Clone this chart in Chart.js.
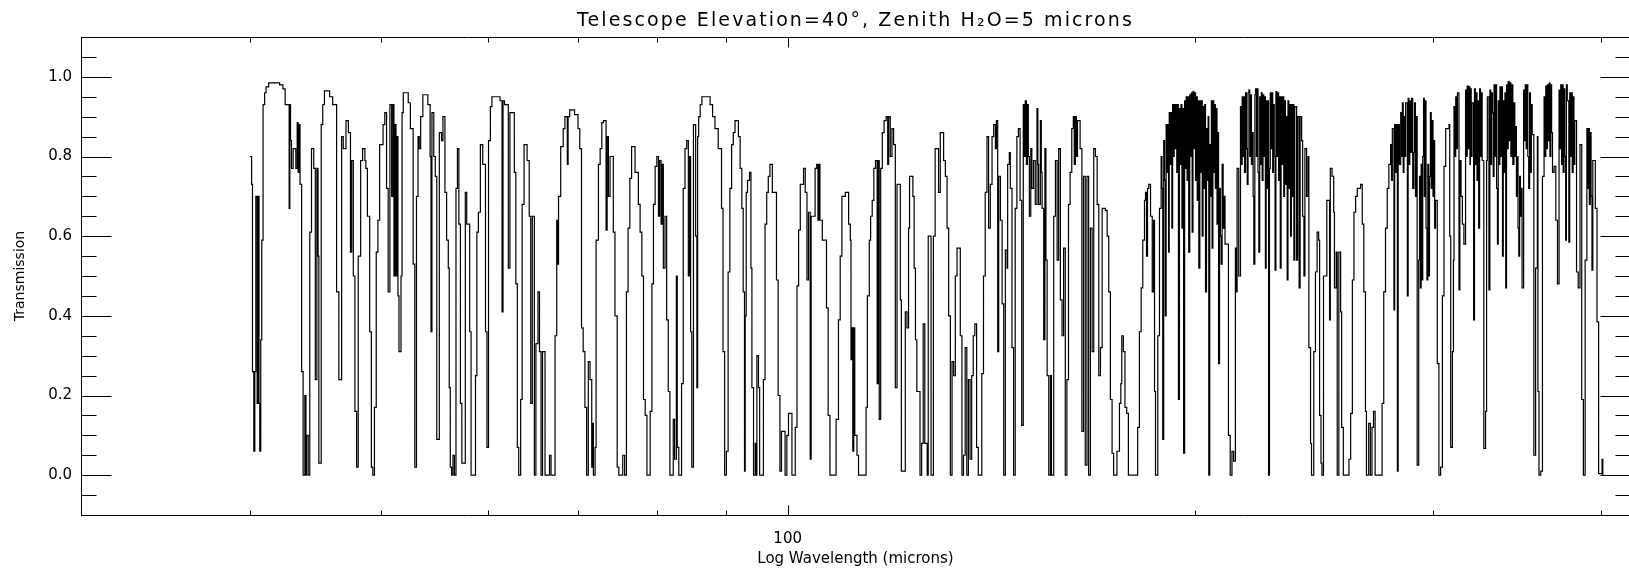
<!DOCTYPE html>
<html>
<head>
<meta charset="utf-8">
<title>Telescope Elevation=40°, Zenith H2O=5 microns</title>
<script src="https://cdn.jsdelivr.net/npm/chart.js@4.4.1/dist/chart.umd.min.js"></script>
<style>
  html, body { margin: 0; padding: 0; background: #fff; overflow: hidden; }
  #transmissionChart { display: block; width: 1632px; height: 577px; }
</style>
</head>
<body>
<canvas id="transmissionChart" width="1632" height="577"></canvas>
<script>
// Wavelength (microns) and transmission, stepped trace
const wavelengths = [
  40.00, 40.12, 40.18, 40.27, 40.34, 40.41, 40.50, 40.57, 40.63, 40.68,
  40.75, 40.82, 40.91, 41.02, 41.12, 41.30, 42.08, 42.32, 42.48, 42.77,
  42.82, 42.87, 42.94, 43.06, 43.26, 43.36, 43.43, 43.51, 43.57, 43.69,
  43.80, 43.93, 44.01, 44.06, 44.18, 44.30, 44.43, 44.60, 44.72, 44.84,
  44.93, 44.99, 45.17, 45.29, 45.42, 45.82, 46.06, 46.37, 46.55, 46.77,
  46.90, 47.12, 47.31, 47.48, 47.58, 47.71, 47.84, 47.98, 48.11, 48.31,
  48.47, 48.66, 48.74, 48.87, 49.06, 49.20, 49.32, 49.46, 49.61, 49.75,
  49.90, 50.19, 50.34, 50.49, 50.63, 50.78, 50.93, 51.04, 51.13, 51.22,
  51.31, 51.40, 51.48, 51.57, 51.75, 51.84, 51.95, 52.39, 52.58, 52.83,
  52.98, 53.13, 53.27, 53.38, 53.51, 53.71, 54.17, 54.38, 54.46, 54.55,
  54.72, 54.86, 55.00, 55.24, 55.45, 55.58, 55.77, 55.93, 56.09, 56.18,
  56.28, 56.41, 56.54, 56.68, 56.83, 56.97, 57.11, 57.26, 57.40, 57.74,
  57.88, 58.17, 58.31, 58.75, 58.89, 59.04, 59.24, 59.48, 59.76, 59.91,
  60.07, 60.26, 60.42, 61.26, 61.47, 61.57, 61.73, 62.13, 62.30, 62.77,
  62.93, 63.09, 63.24, 63.45, 63.61, 63.82, 64.15, 64.38, 64.55, 64.72,
  64.95, 65.12, 65.35, 65.52, 65.69, 65.86, 66.14, 66.65, 66.82, 67.28,
  67.47, 67.56, 67.68, 67.93, 68.22, 68.42, 68.70, 68.79, 68.98, 69.55,
  69.96, 70.17, 70.38, 70.58, 70.79, 71.00, 71.20, 71.41, 71.62, 71.72,
  71.82, 72.03, 72.15, 72.44, 72.65, 72.86, 73.06, 73.39, 73.52, 73.68,
  73.89, 74.30, 74.51, 74.79, 75.00, 75.50, 75.75, 75.98, 76.19, 76.42,
  76.65, 77.10, 77.54, 77.77, 78.00, 78.22, 78.45, 78.68, 79.12, 79.35,
  79.56, 79.79, 80.02, 80.24, 80.40, 80.60, 80.74, 80.91, 81.14, 81.37,
  81.59, 81.82, 82.29, 82.48, 82.73, 82.85, 83.07, 83.46, 83.70, 83.95,
  84.20, 84.43, 84.61, 84.76, 84.93, 85.17, 85.49, 85.67, 85.78, 85.93,
  86.15, 86.40, 87.62, 87.99, 88.35, 88.84, 89.34, 89.57, 89.82, 90.09,
  90.35, 90.62, 90.89, 91.15, 91.42, 91.95, 92.22, 92.49, 92.70, 92.91,
  93.02, 93.18, 93.39, 93.71, 93.93, 94.09, 94.35, 94.62, 94.78, 94.89,
  95.15, 95.34, 95.95, 96.22, 96.49, 96.75, 97.02, 97.42, 98.11, 98.39,
  98.69, 98.95, 99.56, 99.86, 100.14, 100.73, 101.30, 101.60, 101.88, 102.17,
  102.74, 103.04, 103.34, 103.61, 103.91, 104.08, 104.78, 105.07, 105.30, 105.47,
  105.65, 106.08, 106.84, 107.14, 107.47, 108.60, 109.04, 109.36, 109.68, 110.31,
  110.94, 111.26, 111.39, 111.58, 111.73, 111.92, 112.11, 112.53, 112.83, 114.29,
  114.54, 114.92, 115.18, 115.49, 115.81, 116.14, 116.47, 116.68, 116.88, 117.17,
  117.50, 117.85, 118.27, 118.58, 118.78, 119.10, 119.45, 119.78, 120.13, 120.48,
  121.16, 121.37, 122.19, 122.54, 122.87, 123.08, 123.78, 124.05, 124.32, 124.61,
  125.29, 125.64, 125.97, 126.32, 126.84, 127.06, 127.67, 128.18, 128.56, 129.31,
  129.69, 130.43, 130.82, 131.20, 131.56, 131.94, 132.32, 132.68, 133.06, 133.45,
  134.19, 134.57, 134.93, 135.31, 135.69, 136.06, 136.44, 136.82, 137.18, 137.56,
  137.97, 138.37, 139.20, 139.60, 140.01, 140.43, 140.82, 141.23, 141.65, 142.04,
  142.46, 142.70, 143.02, 143.27, 143.68, 144.10, 144.49, 144.90, 145.32, 145.47,
  145.88, 146.13, 146.55, 146.94, 147.35, 147.77, 148.16, 148.58, 148.99, 149.39,
  149.65, 149.90, 150.20, 150.45, 150.68, 150.95, 151.32, 151.59, 152.02, 152.47, 152.92, 153.15, 153.35, 153.80, 154.05,
  154.26, 154.68, 155.00, 155.27, 155.59, 156.02, 156.47, 156.74, 157.35, 157.80,
  158.26, 158.68, 159.14, 159.59, 160.02, 160.47, 160.92, 161.35, 161.80, 162.26,
  162.68, 162.95, 163.25, 163.55, 163.85, 164.58, 165.08, 165.54, 166.03, 166.52, 166.99, 167.49, 167.98,
  168.45, 168.94, 169.43, 169.90, 170.39, 170.88, 171.84, 172.34, 172.80, 173.29,
  173.79, 174.25, 175.24, 175.99, 176.40, 176.69, 177.16, 177.65, 178.19, 178.69,
  181.54, 182.08, 182.62, 183.12, 183.66, 183.98, 184.29, 184.61, 185.02, 185.56,
  186.10, 186.51, 186.83, 187.14, 187.87, 188.41,
  188.94, 189.20, 189.45, 189.77, 190.05, 190.30, 190.56, 190.85, 191.10, 191.35,
  191.57, 191.85, 192.10, 192.42, 192.68, 192.95, 193.20, 193.45, 193.75, 194.04,
  194.30, 194.59, 194.93, 195.20, 195.45, 195.76, 196.03, 196.31, 196.66, 196.95,
  197.20, 197.48, 197.75, 198.03, 198.38, 198.65, 198.92, 199.20, 199.48, 199.75,
  200.05, 200.34, 200.63, 200.93, 201.20, 201.47, 201.82, 202.10, 202.38, 202.65,
  202.92, 203.20, 203.50, 203.78, 204.13, 204.45, 204.70, 204.92, 205.26, 205.55,
  205.82, 206.09, 206.36, 206.65, 206.95, 207.22, 207.50, 207.81, 208.10, 208.36,
  208.70, 209.00, 209.29, 209.63, 210.00, 210.30, 210.67, 211.90, 212.54, 213.18,
  213.78, 214.42, 214.79, 215.05, 215.65,
  216.29, 216.60, 216.93, 217.25, 217.55, 217.79, 218.17, 218.50, 218.80, 219.10,
  219.40, 219.72, 220.04, 220.37, 220.68, 221.00, 221.28, 221.65, 221.92, 222.25,
  222.55, 222.85, 223.16, 223.49, 223.80, 224.10, 224.43, 224.75, 225.05, 225.35,
  225.67, 225.97, 226.30, 226.60, 226.90, 227.24, 227.55, 227.91, 228.20, 228.50,
  228.78, 229.10, 229.42, 229.75, 230.10, 230.45, 230.80, 231.10, 231.46, 231.79,
  232.15, 232.50, 232.85, 233.15, 233.50, 233.85, 234.20, 234.52, 234.85, 235.20,
  235.55, 235.87, 236.20, 236.55, 236.89, 237.26, 238.00, 238.40, 239.02,
  239.43, 240.04, 240.45, 240.98, 241.39, 242.08, 242.69, 243.02, 243.71, 244.12,
  245.06, 245.76, 246.45, 247.10, 247.51, 248.08, 248.49, 249.15, 250.57, 251.74,
  252.06, 252.81, 253.52, 253.84, 254.60, 255.05, 255.76, 256.53, 256.97, 257.71,
  260.19, 260.95, 261.71, 262.42, 263.17, 263.93, 265.40, 266.15, 266.86, 267.62,
  268.07, 269.09, 269.85, 270.61, 271.31, 272.06, 275.31, 276.08, 276.91, 277.73,
  278.50, 279.33, 279.75, 280.15, 280.93, 281.26, 281.70, 282.15, 282.57, 282.96,
  283.55, 284.17, 284.60, 284.99, 285.40, 285.77, 286.20, 286.59, 287.41, 287.80,
  288.20, 288.60, 289.01, 289.50, 290.05, 290.61, 290.95, 291.40, 291.85, 292.26,
  293.03, 293.45, 293.86, 294.25, 294.68, 295.05, 295.46, 295.85, 296.28, 296.70,
  297.18, 297.60, 298.02, 298.45, 298.92, 299.35, 299.81, 300.25, 300.66, 301.10,
  301.55, 302.45,
  303.29, 304.17, 305.09, 305.93, 306.82, 308.56, 308.93, 309.46, 310.36, 310.89,
  311.20, 311.65, 312.10, 312.55, 313.01, 313.84, 314.32, 314.95, 315.64, 316.48,
  317.38, 317.80, 318.27, 318.85, 319.40, 319.75, 320.01, 320.45, 320.91, 321.75,
  322.23, 322.70, 323.15, 323.62, 324.05, 324.54, 325.06, 325.55, 326.00, 326.49,
  327.41, 328.38, 328.96, 329.36, 330.28, 330.80, 331.30, 331.75, 332.23, 332.70,
  333.15, 333.65, 334.15, 334.60, 335.10, 335.56, 336.05, 336.50, 337.00, 337.50,
  337.98, 338.44, 338.95, 339.40, 339.87, 340.33, 340.85, 341.30, 341.80, 342.30,
  342.85, 343.40, 344.00, 344.64, 345.15, 345.62, 346.10, 346.59, 347.05, 347.51,
  348.00, 348.49, 349.00, 349.46, 350.38, 350.90, 351.35, 351.90, 352.40, 352.90,
  353.42, 353.98, 354.50, 355.00, 355.54, 356.54, 357.61, 358.67, 359.05, 359.67,
  360.74, 361.80, 362.80, 363.30, 363.86, 364.40, 364.90, 365.40, 365.93, 366.45,
  366.99, 367.50, 368.05, 369.05, 370.12, 371.18, 372.18, 372.70, 373.25, 373.80,
  374.30, 374.80, 375.35, 375.85, 376.38, 376.88, 377.44, 378.44, 379.01, 379.60,
  380.10, 380.65, 381.20, 381.75, 382.29, 383.44, 384.53, 385.69, 386.85, 387.94,
  389.09, 390.25, 390.80, 391.35, 391.90, 392.50, 393.05, 393.65, 394.20, 395.90,
  397.05, 398.14, 400.46, 401.00
];

const transmission = [
  0.80, 0.73, 0.26, 0.06, 0.26, 0.70, 0.18, 0.70, 0.18, 0.06,
  0.34, 0.59, 0.93, 0.96, 0.975, 0.985, 0.98, 0.97, 0.93, 0.67,
  0.93, 0.84, 0.77, 0.82, 0.77, 0.885, 0.76, 0.88, 0.73, 0.26,
  0.00, 0.20, 0.00, 0.10, 0.00, 0.61, 0.82, 0.77, 0.24, 0.77,
  0.55, 0.03, 0.88, 0.93, 0.965, 0.95, 0.93, 0.46, 0.24, 0.85,
  0.82, 0.89, 0.86, 0.56, 0.79, 0.50, 0.16, 0.02, 0.55, 0.79,
  0.82, 0.79, 0.77, 0.65, 0.36, 0.02, 0.00, 0.17, 0.56, 0.64,
  0.83, 0.88, 0.91, 0.72, 0.46, 0.93, 0.70, 0.93, 0.50, 0.88,
  0.50, 0.85, 0.45, 0.31, 0.50, 0.91, 0.96, 0.935, 0.87, 0.53,
  0.02, 0.70, 0.85, 0.82, 0.90, 0.955, 0.93, 0.80, 0.36, 0.91,
  0.80, 0.75, 0.09, 0.86, 0.84, 0.90, 0.71, 0.59, 0.52, 0.22,
  0.02, 0.00, 0.05, 0.00, 0.72, 0.82, 0.63, 0.18, 0.03, 0.71,
  0.63, 0.36, 0.00, 0.25, 0.61, 0.66, 0.83, 0.78, 0.36, 0.07,
  0.84, 0.925, 0.95, 0.94, 0.41, 0.94, 0.93, 0.52, 0.91, 0.76,
  0.48, 0.07, 0.00, 0.19, 0.68, 0.83, 0.79, 0.65, 0.18, 0.65,
  0.00, 0.33, 0.46, 0.31, 0.00, 0.31, 0.00, 0.05, 0.00, 0.35,
  0.64, 0.53, 0.70, 0.825, 0.87, 0.90, 0.78, 0.90, 0.917, 0.905,
  0.87, 0.82, 0.37, 0.31, 0.17, 0.00, 0.285, 0.24, 0.02, 0.13,
  0.00, 0.07, 0.59, 0.78, 0.82, 0.885, 0.89, 0.615, 0.85, 0.70,
  0.80, 0.61, 0.40, 0.02, 0.00, 0.05, 0.00, 0.46, 0.62, 0.745,
  0.825, 0.76, 0.68, 0.61, 0.50, 0.19, 0.15, 0.00, 0.16, 0.48,
  0.68, 0.775, 0.80, 0.65, 0.79, 0.63, 0.78, 0.52, 0.65, 0.39,
  0.21, 0.00, 0.14, 0.04, 0.50, 0.07, 0.00, 0.23, 0.72, 0.82,
  0.84, 0.50, 0.80, 0.36, 0.02, 0.88, 0.60, 0.22, 0.85, 0.90,
  0.93, 0.95, 0.93, 0.90, 0.87, 0.82, 0.67, 0.31, 0.00, 0.06,
  0.51, 0.72, 0.83, 0.86, 0.89, 0.85, 0.77, 0.67, 0.46, 0.01,
  0.40, 0.71, 0.74, 0.76, 0.52, 0.22, 0.00, 0.08, 0.00, 0.30,
  0.22, 0.00, 0.24, 0.63, 0.71, 0.75, 0.78, 0.71, 0.49, 0.20,
  0.01, 0.11, 0.00, 0.10, 0.155, 0.00, 0.12, 0.475, 0.615, 0.73,
  0.77, 0.71, 0.49, 0.66, 0.04, 0.65, 0.77, 0.78, 0.64, 0.78,
  0.64, 0.59, 0.42, 0.15, 0.00, 0.14, 0.39, 0.55, 0.70, 0.71,
  0.63, 0.59, 0.29, 0.37, 0.06, 0.37, 0.10, 0.05, 0.00, 0.17,
  0.45, 0.59, 0.65, 0.69, 0.77, 0.79, 0.23, 0.79, 0.14, 0.77,
  0.86, 0.89, 0.90, 0.78, 0.90, 0.80, 0.87, 0.83, 0.22, 0.73,
  0.44, 0.01, 0.41, 0.37, 0.62, 0.75, 0.70, 0.52, 0.34, 0.21,
  0.00, 0.08, 0.38, 0.08, 0.00, 0.60, 0.00, 0.60, 0.82, 0.71,
  0.86, 0.79, 0.75, 0.62, 0.40, 0.00, 0.285, 0.25, 0.50, 0.57,
  0.35, 0.00, 0.05, 0.32, 0.00, 0.24, 0.04, 0.25, 0.35, 0.38,
  0.07, 0.00, 0.255, 0.50, 0.71, 0.85, 0.62, 0.73, 0.85, 0.88,
  0.82, 0.89, 0.31, 0.75, 0.64, 0.43, 0.00, 0.565, 0.52, 0.78,
  0.81, 0.72, 0.32, 0.00, 0.67, 0.85, 0.87, 0.69, 0.125, 0.93,
  0.80, 0.94, 0.78, 0.93, 0.80, 0.65, 0.82, 0.72, 0.79, 0.68, 0.92, 0.78, 0.68, 0.89, 0.76,
  0.67, 0.34, 0.82, 0.54, 0.25, 0.00, 0.25, 0.00, 0.65, 0.79,
  0.54, 0.82, 0.44, 0.35, 0.57, 0.00, 0.24, 0.68, 0.76, 0.87,
  0.90, 0.78, 0.90, 0.80, 0.89, 0.82, 0.11, 0.75, 0.025, 0.75, 0.00, 0.62, 0.31,
  0.82, 0.80, 0.68, 0.25, 0.32, 0.67, 0.665, 0.60, 0.46, 0.19,
  0.055, 0.00, 0.06, 0.18, 0.23, 0.35, 0.31, 0.17, 0.155, 0.00,
  0.12, 0.36, 0.47, 0.59, 0.69, 0.71, 0.55, 0.72, 0.73, 0.65,
  0.46, 0.64, 0.21, 0.00, 0.35, 0.67,
  0.80, 0.72, 0.09, 0.84, 0.74, 0.40, 0.88, 0.76, 0.88, 0.56,
  0.91, 0.78, 0.91, 0.62, 0.93, 0.80, 0.93, 0.82, 0.93, 0.76,
  0.93, 0.19, 0.92, 0.78, 0.93, 0.62, 0.92, 0.055, 0.94, 0.77,
  0.95, 0.74, 0.95, 0.56, 0.955, 0.80, 0.96, 0.61, 0.963, 0.82,
  0.96, 0.74, 0.95, 0.69, 0.94, 0.52, 0.94, 0.76, 0.94, 0.60,
  0.925, 0.72, 0.93, 0.46, 0.87, 0.74, 0.90, 0.00, 0.83, 0.70,
  0.94, 0.57, 0.94, 0.76, 0.93, 0.72, 0.92, 0.63, 0.86, 0.28,
  0.72, 0.60, 0.53, 0.78, 0.62, 0.70, 0.58, 0.10, 0.00, 0.06,
  0.035, 0.57, 0.46, 0.77, 0.50,
  0.925, 0.78, 0.95, 0.80, 0.95, 0.76, 0.96, 0.82, 0.73, 0.96,
  0.967, 0.80, 0.955, 0.78, 0.86, 0.70, 0.53, 0.955, 0.97, 0.80,
  0.97, 0.76, 0.56, 0.95, 0.78, 0.96, 0.74, 0.955, 0.80, 0.95,
  0.52, 0.94, 0.72, 0.94, 0.00, 0.77, 0.96, 0.82, 0.96, 0.76,
  0.93, 0.80, 0.515, 0.963, 0.80, 0.96, 0.74, 0.95, 0.52, 0.95,
  0.78, 0.95, 0.70, 0.94, 0.73, 0.90, 0.49, 0.94, 0.72, 0.93,
  0.60, 0.93, 0.70, 0.93, 0.54, 0.925, 0.54, 0.90, 0.47,
  0.90, 0.84, 0.65, 0.50, 0.82, 0.70, 0.80, 0.32, 0.08, 0.00,
  0.31, 0.51, 0.61, 0.59, 0.15, 0.03, 0.00, 0.50, 0.69, 0.39,
  0.77, 0.75, 0.66, 0.47, 0.56, 0.00, 0.56, 0.41, 0.12, 0.00,
  0.04, 0.155, 0.49, 0.66, 0.70, 0.72, 0.73, 0.63, 0.46, 0.16,
  0.00, 0.13, 0.00, 0.12, 0.16, 0.00, 0.18, 0.46, 0.62, 0.72,
  0.78, 0.83, 0.74, 0.87, 0.415, 0.88, 0.76, 0.88, 0.01, 0.88,
  0.78, 0.91, 0.80, 0.935, 0.76, 0.90, 0.80, 0.935, 0.45, 0.946,
  0.78, 0.94, 0.81, 0.946, 0.72, 0.81, 0.935, 0.70, 0.90, 0.025,
  0.54, 0.75, 0.47, 0.78, 0.49, 0.80, 0.946, 0.70, 0.94, 0.62,
  0.49, 0.78, 0.50, 0.75, 0.91, 0.72, 0.89, 0.70, 0.84, 0.62,
  0.69, 0.28,
  0.00, 0.02, 0.45, 0.775, 0.87, 0.88, 0.60, 0.07, 0.31, 0.54,
  0.925, 0.80, 0.95, 0.82, 0.96, 0.465, 0.79, 0.70, 0.63, 0.58,
  0.967, 0.80, 0.977, 0.82, 0.975, 0.78, 0.97, 0.80, 0.935, 0.39,
  0.97, 0.78, 0.96, 0.74, 0.94, 0.62, 0.97, 0.80, 0.96, 0.79,
  0.067, 0.16, 0.79, 0.95, 0.465, 0.967, 0.78, 0.96, 0.91, 0.75,
  0.98, 0.80, 0.98, 0.72, 0.58, 0.94, 0.78, 0.975, 0.80, 0.975,
  0.55, 0.94, 0.76, 0.96, 0.47, 0.98, 0.82, 0.988, 0.84, 0.985,
  0.80, 0.98, 0.78, 0.935, 0.80, 0.875, 0.70, 0.80, 0.62, 0.55,
  0.75, 0.65, 0.72, 0.47, 0.967, 0.84, 0.98, 0.82, 0.98, 0.80,
  0.72, 0.96, 0.76, 0.93, 0.855, 0.05, 0.52, 0.85, 0.21, 0.00,
  0.01, 0.75, 0.95, 0.80, 0.977, 0.82, 0.98, 0.84, 0.984, 0.80,
  0.98, 0.86, 0.76, 0.775, 0.64, 0.48, 0.967, 0.82, 0.98, 0.78,
  0.98, 0.76, 0.97, 0.80, 0.59, 0.98, 0.94, 0.585, 0.96, 0.80,
  0.96, 0.76, 0.95, 0.78, 0.89, 0.51, 0.47, 0.83, 0.19, 0.00,
  0.54, 0.87, 0.72, 0.87, 0.68, 0.86, 0.70, 0.515, 0.79, 0.67,
  0.385, 0.004, 0.04, 0.00
];

// axis ticks and labels
const yLabelValues = [0, 0.2, 0.4, 0.6, 0.8, 1.0];
const yMinorTicks = [-0.05, 0.05, 0.1, 0.15, 0.25, 0.3, 0.35, 0.45, 0.5, 0.55, 0.65, 0.7, 0.75, 0.85, 0.9, 0.95, 1.05];
const xLabelValues = [100];
const xMinorTicks = [40, 50, 60, 70, 80, 90, 200, 300, 400];

const titleText = 'Telescope Elevation=40°, Zenith H₂O=5 microns';
const fontFamily = '"DejaVu Sans", sans-serif';

if (wavelengths.length !== transmission.length) {
    console.error('length mismatch', wavelengths.length, transmission.length);
}

const points = wavelengths.map((w, i) => ({ x: w, y: transmission[i] }));

// inward tick marks on all four sides (IDL style)
const frameTicks = {
    id: 'frameTicks',
    afterDraw(chart) {
        const { ctx, chartArea: a, scales } = chart;
        const px = v => Math.round(scales.x.getPixelForValue(v)) + 0.5;
        const py = v => Math.round(scales.y.getPixelForValue(v)) + 0.5;
        const left = Math.round(a.left) + 0.5, right = Math.round(a.right) + 0.5;
        const top = Math.round(a.top) + 0.5, bottom = Math.round(a.bottom) + 0.5;
        ctx.save();
        ctx.strokeStyle = '#000';
        ctx.lineWidth = 1;
        ctx.beginPath();
        yLabelValues.forEach(v => {
            const y = py(v);
            ctx.moveTo(left, y); ctx.lineTo(left + 30, y);
            ctx.moveTo(right, y); ctx.lineTo(right - 30, y);
        });
        yMinorTicks.forEach(v => {
            const y = py(v);
            ctx.moveTo(left, y); ctx.lineTo(left + 15, y);
            ctx.moveTo(right, y); ctx.lineTo(right - 15, y);
        });
        xLabelValues.forEach(v => {
            const x = px(v);
            ctx.moveTo(x, bottom); ctx.lineTo(x, bottom - 10);
            ctx.moveTo(x, top); ctx.lineTo(x, top + 10);
        });
        xMinorTicks.forEach(v => {
            const x = px(v);
            ctx.moveTo(x, bottom); ctx.lineTo(x, bottom - 5);
            ctx.moveTo(x, top); ctx.lineTo(x, top + 5);
        });
        ctx.stroke();
        ctx.restore();
    }
};

// plot title, drawn with a little letter spacing like the stroke font
const plotTitle = {
    id: 'plotTitle',
    afterDraw(chart) {
        const { ctx, chartArea: a } = chart;
        ctx.save();
        ctx.font = '19px ' + fontFamily;
        ctx.fillStyle = '#000';
        ctx.textAlign = 'center';
        ctx.textBaseline = 'alphabetic';
        if ('letterSpacing' in ctx) ctx.letterSpacing = '2.1px';
        ctx.fillText(titleText, (a.left + a.right) / 2, 26);
        ctx.restore();
    }
};

const ctx = document.getElementById('transmissionChart').getContext('2d');
const transmissionChart = new Chart(ctx, {
    type: 'line',
    data: {
        datasets: [{
            label: 'Transmission',
            data: points,
            stepped: true,
            borderColor: '#000',
            borderWidth: 1.2,
            pointRadius: 0,
            fill: false
        }]
    },
    options: {
        responsive: false,
        animation: false,
        devicePixelRatio: 1,
        layout: { padding: 0 },
        plugins: {
            legend: { display: false },
            tooltip: { enabled: false },
            title: { display: false }
        },
        scales: {
            x: {
                type: 'logarithmic',
                position: 'bottom',
                min: 30,
                max: 420,
                afterBuildTicks: scale => { scale.ticks = xLabelValues.map(v => ({ value: v })); },
                afterFit: scale => { scale.height = 62; },
                grid: { display: false, drawTicks: false },
                border: { display: true, color: '#000', width: 1 },
                ticks: {
                    color: '#000',
                    font: { family: fontFamily, size: 15 },
                    padding: 15,
                    maxRotation: 0,
                    autoSkip: false,
                    callback: value => String(value)
                },
                title: {
                    display: true,
                    text: 'Log Wavelength (microns)',
                    color: '#000',
                    font: { family: fontFamily, size: 15 },
                    padding: { top: 0, bottom: 9 }
                }
            },
            xTop: {
                type: 'logarithmic',
                position: 'top',
                min: 30,
                max: 420,
                afterFit: scale => { scale.height = 37; },
                grid: { display: false, drawTicks: false },
                border: { display: true, color: '#000', width: 1 },
                ticks: { display: false }
            },
            y: {
                type: 'linear',
                position: 'left',
                min: -0.1,
                max: 1.1,
                afterBuildTicks: scale => { scale.ticks = yLabelValues.map(v => ({ value: v })); },
                afterFit: scale => { scale.width = 81; },
                grid: { display: false, drawTicks: false },
                border: { display: true, color: '#000', width: 1 },
                ticks: {
                    color: '#000',
                    font: { family: fontFamily, size: 15 },
                    padding: 9,
                    callback: value => value.toFixed(1)
                },
                title: {
                    display: true,
                    text: 'Transmission',
                    color: '#000',
                    font: { family: fontFamily, size: 14 },
                    padding: { top: 12, bottom: 0 }
                }
            },
            yRight: {
                type: 'linear',
                position: 'right',
                min: -0.1,
                max: 1.1,
                afterFit: scale => { scale.width = 2; },
                grid: { display: false, drawTicks: false },
                border: { display: true, color: '#000', width: 1 },
                ticks: { display: false }
            }
        }
    },
    plugins: [frameTicks, plotTitle]
});
</script>
</body>
</html>
